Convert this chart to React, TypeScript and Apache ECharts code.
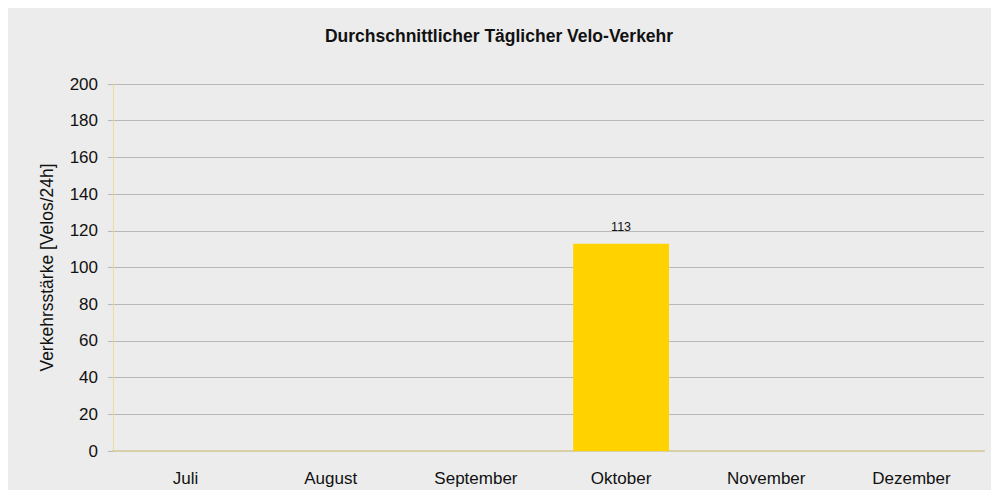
import React, { useEffect, useRef } from "react";
import * as echarts from "echarts";

const categories = ["Juli", "August", "September", "Oktober", "November", "Dezember"];
const values: (number | null)[] = [null, null, null, 113, null, null];
const titleText = "Durchschnittlicher Täglicher Velo-Verkehr";
const yAxisName = "Verkehrsstärke [Velos/24h]";

export default function App() {
  const ref = useRef<HTMLDivElement>(null);
  useEffect(() => {
    if (!ref.current) return;
    const chart = echarts.init(ref.current, undefined, { renderer: "svg" });
    const font = "Liberation Sans, Arial, sans-serif";
    chart.setOption({
      animation: false,
      backgroundColor: "#ececec",
      textStyle: { fontFamily: font },
      title: {
        text: titleText,
        left: 486,
        top: 15,
        textAlign: "center",
        textStyle: { fontSize: 17.5, fontWeight: "bold", color: "#111111", fontFamily: font },
      },
      grid: { left: 105, top: 77, right: 15, bottom: 39, containLabel: false },
      xAxis: {
        type: "category",
        data: categories,
        axisLine: { lineStyle: { color: "#d8cfa8", width: 2 } },
        axisTick: { show: false },
        axisLabel: { color: "#111111", fontSize: 17, margin: 19, fontFamily: font },
      },
      yAxis: {
        type: "value",
        min: 0,
        max: 200,
        interval: 20,
        name: yAxisName,
        nameLocation: "middle",
        nameGap: 57,
        nameTextStyle: { color: "#111111", fontSize: 17.5, fontFamily: font },
        axisLine: { show: true, lineStyle: { color: "#ecdc95", width: 1 } },
        axisTick: { show: true, length: 5, lineStyle: { color: "#b5b5b5" } },
        axisLabel: { color: "#111111", fontSize: 17, margin: 15, fontFamily: font },
        splitLine: { lineStyle: { color: "#b8b8b8", width: 1 } },
      },
      series: [
        {
          type: "bar",
          data: values,
          barCategoryGap: "34%",
          itemStyle: { color: "#ffd200" },
          label: {
            show: true,
            position: "top",
            distance: 10,
            color: "#111111",
            fontSize: 12.5,
            fontFamily: font,
          },
        },
      ],
    });
    return () => chart.dispose();
  }, []);
  return <div ref={ref} style={{ width: 991, height: 483, marginTop: -1 }} />;
}
